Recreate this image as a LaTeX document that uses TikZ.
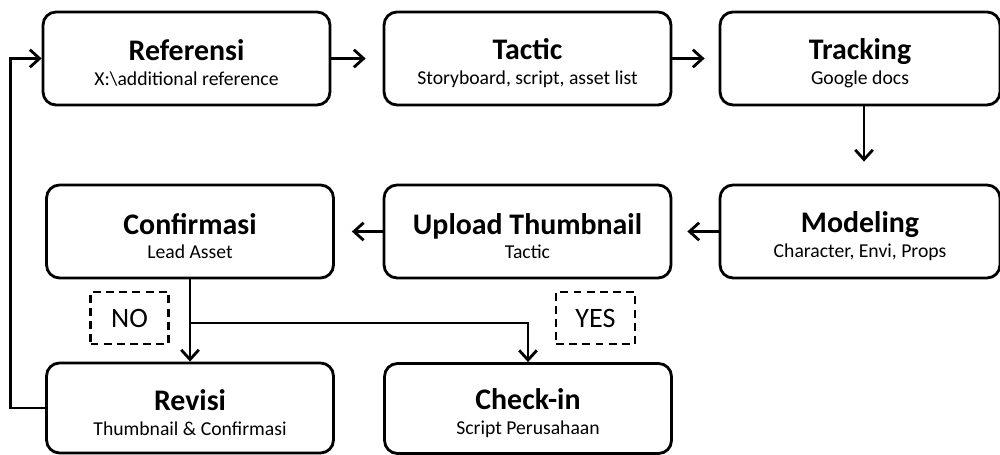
\documentclass[tikz,border=0pt]{standalone}
\usepackage{fontspec}
\setmainfont{Carlito}
\usetikzlibrary{arrows.meta}

\newcommand{\stepname}[2]{{\fontsize{17}{19}\selectfont\bfseries\rule{0pt}{17pt}#1}\\[2pt]{\fontsize{11.2}{13}\selectfont #2}}

\begin{document}
\begin{tikzpicture}[x=0.02cm, y=-0.02cm,
  stepbox/.style={draw, line width=1.6pt, rounded corners=0.26cm, align=center,
    minimum width=5.74cm, minimum height=1.86cm, inner sep=0pt},
  answer/.style={draw, line width=1.2pt, dash pattern=on 4.5pt off 3pt,
    minimum width=1.56cm, minimum height=1.04cm, inner sep=0pt, font=\fontsize{16}{18}\selectfont},
  flow/.style={line width=1.6pt, -{Straight Barb[length=5.5pt,width=10pt,line width=1.6pt]}}]
\useasboundingbox (0,0) rectangle (1000,455);

% Top row
\node[stepbox] (ref) at (186.5,58.5) {\stepname{Referensi}{X:\textbackslash additional reference}};
\node[stepbox] (tac) at (527.5,58.5) {\stepname{Tactic}{Storyboard, script, asset list}};
\node[stepbox, minimum width=5.6cm] (trk) at (860,58.5) {\stepname{Tracking}{Google docs}};

% Middle row
\node[stepbox] (con) at (190,231.5) {\stepname{Confirmasi}{Lead Asset}};
\node[stepbox] (upl) at (527.5,231.5) {\stepname{Upload Thumbnail}{Tactic}};
\node[stepbox, minimum width=5.6cm] (mod) at (860,231.5) {\stepname{Modeling}{Character, Envi, Props}};

% Bottom row
\node[stepbox, minimum height=1.8cm] (rev) at (190,408) {\stepname{Revisi}{Thumbnail \& Confirmasi}};
\node[stepbox, minimum height=1.8cm] (chk) at (528,408.5) {\stepname{Check-in}{Script Perusahaan}};

% Answers
\node[answer] (no) at (129.5,318) {NO};
\node[answer, minimum width=1.58cm] (yes) at (595.5,318) {YES};

\coordinate (split) at (190,323);

% Arrows
\draw[flow, shorten >=0.34cm] (ref) -- (tac);
\draw[flow, shorten >=0.28cm] (tac) -- (trk);
\draw[flow, shorten >=0.44cm] (trk.south -| 864,0) -- (mod.north -| 864,0);
\draw[flow, shorten >=0.3cm] (mod) -- (upl);
\draw[flow, shorten >=0.34cm] (upl) -- (con);
\draw[flow] (con.south) -- (rev.north);
\draw[flow] (split) -| (chk.north);
\draw[flow] (rev.west) -- ++(-35,0) |- (ref.west);
\end{tikzpicture}
\end{document}
